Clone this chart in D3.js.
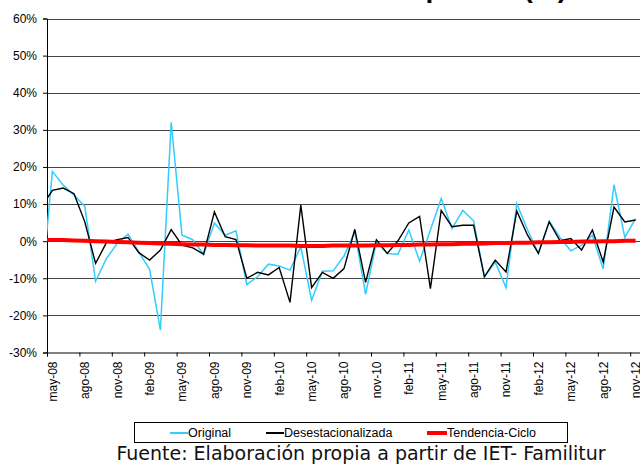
<!DOCTYPE html>
<html lang="es">
<head>
<meta charset="UTF-8">
<title>Tasa de variación</title>
<style>
  body { margin: 0; background: #fff; }
  svg { display: block; font-family: "Liberation Sans", Arial, sans-serif; }
  .grid line { stroke: #444; stroke-width: 1px; }
  .line { fill: none; }
</style>
</head>
<body>
<svg id="chart" width="640" height="464"></svg>
<script src="https://cdn.jsdelivr.net/npm/d3@7"></script>
<script>
// meses: abr-08 (fuera del área, recortado) hasta nov-12
var months = ["abr-08",
  "may-08","jun-08","jul-08","ago-08","sep-08","oct-08","nov-08","dic-08","ene-09","feb-09","mar-09","abr-09",
  "may-09","jun-09","jul-09","ago-09","sep-09","oct-09","nov-09","dic-09","ene-10","feb-10","mar-10","abr-10",
  "may-10","jun-10","jul-10","ago-10","sep-10","oct-10","nov-10","dic-10","ene-11","feb-11","mar-11","abr-11",
  "may-11","jun-11","jul-11","ago-11","sep-11","oct-11","nov-11","dic-11","ene-12","feb-12","mar-12","abr-12",
  "may-12","jun-12","jul-12","ago-12","sep-12","oct-12","nov-12"];

var original = [-12.8,
  18.8, 15.1, 12.4, 9.4, -10.8, -4.7, -0.6, 1.9, -2.9, -7.6,
  -24.0, 32.0, 1.6, 0.4, -3.6, 4.9, 1.6, 2.8, -11.7, -9.6,
  -6.2, -6.7, -7.8, -1.5, -15.9, -8.1, -8.0, -4.0, 2.5, -14.3,
  -0.2, -3.3, -3.5, 3.0, -5.4, 3.0, 11.5, 3.4, 8.3, 5.5,
  -9.6, -5.6, -12.5, 10.1, 3.0, -3.3, 5.4, 1.0, -2.6, -1.1,
  1.6, -7.5, 15.2, 1.0, 6.1];

var desestacionalizada = [9.3,
  13.7, 14.3, 12.8, 5.2, -6.0, -0.4, 0.4, 1.0, -3.1, -5.1,
  -2.4, 3.1, -1.1, -1.8, -3.5, 7.9, 1.2, 0.4, -10.0, -8.4,
  -9.1, -7.1, -16.5, 9.7, -12.5, -8.4, -10.0, -7.4, 3.2, -11.1,
  0.4, -3.3, 0.1, 4.9, 6.7, -12.8, 8.3, 3.9, 4.3, 4.3,
  -9.6, -5.1, -8.3, 8.1, 1.6, -3.3, 5.2, 0.1, 0.7, -2.4,
  3.0, -5.6, 9.2, 5.2, 5.7];

var tendencia = [0.3,
  0.3, 0.3, 0.2, 0.1, 0.0, -0.1, -0.2, -0.3, -0.4, -0.5,
  -0.6, -0.7, -0.8, -0.9, -0.9, -1.0, -1.0, -1.1, -1.1, -1.2,
  -1.2, -1.2, -1.2, -1.3, -1.3, -1.3, -1.2, -1.2, -1.2, -1.2,
  -1.1, -1.1, -1.0, -1.0, -0.9, -0.9, -0.8, -0.8, -0.7, -0.7,
  -0.6, -0.5, -0.5, -0.4, -0.4, -0.3, -0.3, -0.2, -0.2, -0.1,
  -0.1, 0.0, 0.0, 0.1, 0.1];

var yTicks = [-30, -20, -10, 0, 10, 20, 30, 40, 50, 60];

var series = [
  { name: "Original", values: original, color: "#33ccff", width: 1.5 },
  { name: "Desestacionalizada", values: desestacionalizada, color: "#000000", width: 1.4 },
  { name: "Tendencia-Ciclo", values: tendencia, color: "#ff0000", width: 4 }
];

var svg = d3.select("#chart"),
    plotLeft = 47, plotTop = 18.5, plotBottom = 352.5, plotRight = 641;

// índice 0 = may-08; abr-08 queda en -1
var x = d3.scaleLinear().domain([-0.5, 54.5]).range([plotLeft, plotRight]);
var y = d3.scaleLinear().domain([-30, 60]).range([plotBottom, plotTop]);

// título (casi todo fuera del borde superior)
svg.append("text")
    .attr("x", 567)
    .attr("y", -3)
    .attr("text-anchor", "end")
    .style("font-family", "'Liberation Sans', Arial, sans-serif")
    .style("font-weight", "bold")
    .style("font-size", "28px")
    .text("Variación del número de Empresas (%)");

// rejilla
svg.append("g").attr("class", "grid")
  .selectAll("line")
  .data(yTicks.filter(function(d) { return d > -30; }))
  .enter().append("line")
    .attr("x1", plotLeft).attr("x2", 640)
    .attr("y1", function(d) { return Math.round(y(d)) + 0.5; })
    .attr("y2", function(d) { return Math.round(y(d)) + 0.5; });

// eje Y
var yAxis = svg.append("g")
    .attr("transform", "translate(" + plotLeft + ",0)")
    .call(d3.axisLeft(y).tickValues(yTicks).tickSize(4).tickPadding(6)
      .tickFormat(function(d) { return d + "%"; }));
yAxis.select(".domain").attr("stroke", "#000");
yAxis.selectAll(".tick line").attr("stroke", "#000");
yAxis.selectAll("text").style("font-size", "12px").attr("fill", "#000")
    .style("font-family", "'Liberation Sans', Arial, sans-serif");

// eje X
var boundaries = d3.range(0, 55, 3).map(function(i) { return i - 0.5; });
var xAxis = svg.append("g")
    .attr("transform", "translate(0," + plotBottom + ")")
    .call(d3.axisBottom(x).tickValues(boundaries).tickSize(4).tickFormat(""));
xAxis.select(".domain").attr("stroke", "#000");
xAxis.selectAll(".tick line").attr("stroke", "#000");

svg.append("g")
  .selectAll("text")
  .data(d3.range(0, 55, 3))
  .enter().append("text")
    .attr("transform", function(i) { return "translate(" + x(i) + "," + (plotBottom + 9) + ") rotate(-90)"; })
    .attr("text-anchor", "end")
    .attr("dy", "0.36em")
    .style("font-size", "12px")
    .text(function(i) { return months[i + 1]; });

// líneas
svg.append("clipPath").attr("id", "plot")
  .append("rect")
    .attr("x", plotLeft).attr("y", 0)
    .attr("width", 640 - plotLeft).attr("height", plotBottom);

var line = d3.line()
    .x(function(d, k) { return x(k - 1); })
    .y(function(d) { return y(d); });

svg.append("g").attr("clip-path", "url(#plot)")
  .selectAll("path")
  .data(series)
  .enter().append("path")
    .attr("class", "line")
    .attr("d", function(s) { return line(s.values); })
    .attr("stroke", function(s) { return s.color; })
    .attr("stroke-width", function(s) { return s.width; })
    .attr("stroke-linejoin", "miter");

// leyenda
var legend = svg.append("g");
legend.append("rect")
    .attr("x", 134.5).attr("y", 422.5)
    .attr("width", 433).attr("height", 20)
    .attr("fill", "#fff").attr("stroke", "#000");

var legendX = [170, 266, 427];
var item = legend.selectAll(".item")
  .data(series)
  .enter().append("g")
    .attr("class", "item")
    .attr("transform", function(s, i) { return "translate(" + legendX[i] + ",433)"; });

item.append("line")
    .attr("x1", 0).attr("x2", function(s) { return s.width > 2 ? 20 : 18; })
    .attr("stroke", function(s) { return s.color; })
    .attr("stroke-width", function(s) { return s.width > 2 ? 4 : 2; });

item.append("text")
    .attr("x", function(s) { return s.width > 2 ? 20 : 18; })
    .attr("dy", "0.35em")
    .style("font-size", "12.5px")
    .text(function(s) { return s.name; });

// fuente
svg.append("text")
    .attr("x", 361)
    .attr("y", 459.5)
    .attr("text-anchor", "middle")
    .style("font-family", "'DejaVu Sans', Verdana, sans-serif")
    .style("font-size", "19px")
    .attr("fill", "#111")
    .text("Fuente: Elaboración propia a partir de IET- Familitur");
</script>
</body>
</html>
